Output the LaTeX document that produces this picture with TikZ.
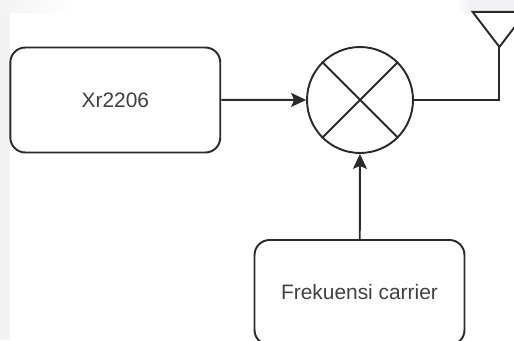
\documentclass[tikz,border=0pt]{standalone}
\usepackage{fontspec}
\setmainfont{Liberation Sans}
\usetikzlibrary{arrows.meta}
\definecolor{stripgray}{HTML}{F3F3F3}
\definecolor{toprgray}{HTML}{F2F2F6}
\definecolor{linegray}{HTML}{2A2A2A}
\definecolor{textgray}{HTML}{404040}
\tikzset{
  blok/.style={draw=linegray,line width=1.1pt,rounded corners=0.3cm,minimum width=4.2cm,minimum height=2.1cm,inner sep=0pt,
    text=textgray,font=\fontsize{11.9}{14}\selectfont},
  kabel/.style={draw=linegray,line width=1.1pt},
  panah/.style={kabel,-{Stealth[length=3mm,width=2.8mm,inset=0.6mm]}}
}
\begin{document}
\begin{tikzpicture}[scale=0.02]
  \useasboundingbox (0,0) rectangle (514,340);
  \clip (0,0) rectangle (514,340);
  \fill[stripgray] (0,0) rectangle (10,328);
  \shade[left color=stripgray,right color=white] (0,328) rectangle (75,340);
  \shade[left color=white,right color=toprgray] (456,328) rectangle (470,340);
  \fill[toprgray] (470,328) rectangle (514,340);
  \node[blok] (xr) at (115.3,240){Xr2206};
  \node[blok] (carrier) at (359.5,47.5){Frekuensi carrier};
  \node[kabel,circle,minimum size=2.12cm,inner sep=0pt] (mix) at (360,240){};
  \draw[kabel] (mix.north west)--(mix.south east);
  \draw[kabel] (mix.south west)--(mix.north east);
  \coordinate (apex) at (499.3,293);
  \coordinate (antl) at (472.5,328); \coordinate (antr) at (526,328);
  \draw[kabel] (antl)--(apex)--(antr)--cycle;
  \draw[panah] (xr)--(mix);
  \draw[panah] (carrier)--(mix);
  \draw[kabel] (mix.east)-|(apex);
\end{tikzpicture}
\end{document}
